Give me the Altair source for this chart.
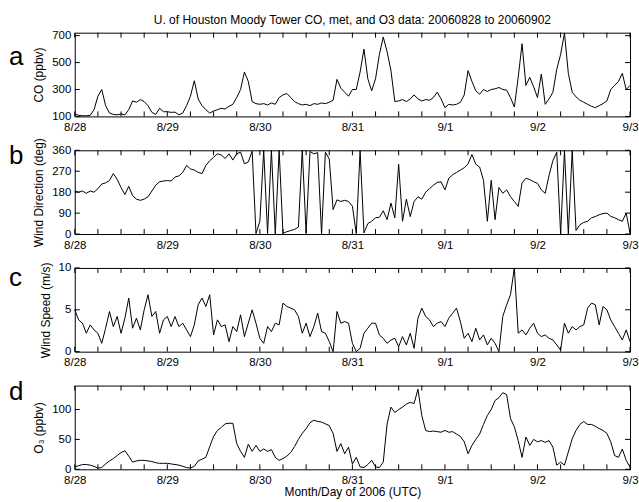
import altair as alt
import pandas as pd

# ---------------- data (hourly samples, hour 0 = 2006-08-28 00 UTC) ----------------
hours = list(range(145))
day_ticks = [0, 24, 48, 72, 96, 120, 144]
day_labels = ["8/28", "8/29", "8/30", "8/31", "9/1", "9/2", "9/3"]
minor_ticks = [0, 6, 12, 18, 24, 30, 36, 42, 48, 54, 60, 66, 72, 78, 84, 90,
               96, 102, 108, 114, 120, 126, 132, 138, 144]

co = [120, 108, 105, 105, 108, 150, 250, 300, 180, 125, 115, 112,
      118, 112, 150, 215, 205, 225, 210, 180, 130, 115, 160, 135,
      135, 130, 132, 112, 125, 180, 250, 365, 230, 180, 150, 125,
      140, 150, 160, 155, 175, 190, 240, 300, 430, 360, 210, 195,
      190, 195, 185, 200, 190, 240, 260, 270, 240, 210, 195, 185,
      190, 180, 195, 190, 200, 195, 205, 220, 375, 310, 280, 250,
      300, 300, 430, 600, 380, 290, 380, 560, 690, 580, 440, 210,
      215, 225, 210, 230, 260, 230, 215, 225, 220, 240, 280, 230,
      165, 190, 185, 190, 205, 260, 440, 360, 290, 265, 300, 285,
      300, 305, 315, 300, 295, 240, 170, 390, 640, 330, 390, 320,
      240, 415, 190, 230, 280, 450, 560, 720, 420, 280, 245, 220,
      205, 190, 175, 165, 180, 195, 215, 300, 330, 360, 420, 300,
      330]

wdir = [185, 180, 185, 175, 185, 180, 195, 215, 220, 230, 260, 235,
        200, 170, 205, 165, 150, 145, 150, 160, 185, 210, 225, 228,
        230, 228, 245, 250, 265, 295, 280, 275, 265, 260, 295, 315,
        330, 345, 340, 325, 345, 318, 345, 352, 302, 310, 356, 2,
        55, 360, 2, 360, 0, 360, 3, 10, 15, 20, 30, 360,
        5, 355, 345, 350, 0, 352, 323, 105, 147, 140, 145, 140,
        120, 2, 358, 5, 45, 55, 70, 72, 100, 62, 133, 70,
        300, 55, 150, 75, 140, 160, 150, 180, 195, 210, 222, 225,
        190, 240, 255, 265, 275, 285, 302, 342, 300, 288, 231, 55,
        231, 62, 200, 175, 190, 161, 140, 119, 220, 240, 234, 225,
        218, 190, 175, 252, 316, 352, 0, 360, 0, 360, 15, 40,
        50, 55, 70, 75, 83, 88, 90, 76, 70, 62, 55, 90,
        5]

wspd = [5.0, 3.8, 3.4, 2.2, 3.2, 2.6, 2.2, 1.0, 2.8, 4.8, 3.0, 4.2,
        2.2, 4.0, 6.4, 2.8, 4.0, 2.6, 5.0, 6.8, 4.2, 4.8, 2.2, 3.8,
        4.2, 3.0, 4.2, 3.0, 3.4, 2.6, 1.8, 3.2, 5.6, 6.4, 5.4, 6.8,
        2.0, 3.8, 3.0, 3.2, 1.2, 3.0, 2.4, 4.4, 1.8, 3.4, 5.0, 3.4,
        1.6, 1.0, 3.0, 2.4, 3.4, 3.2, 5.8, 5.4, 5.2, 5.0, 4.2, 2.2,
        3.4, 1.8, 3.0, 4.6, 2.4, 2.2, 1.2, 0.0, 4.8, 3.4, 3.6, 3.4,
        1.0, 0.0, 0.4, 2.2, 2.8, 3.4, 3.4, 2.0, 1.6, 1.0, 1.4, 1.6,
        0.6, 1.8, 0.8, 2.2, 0.4, 4.0, 5.2, 4.2, 3.8, 3.0, 3.4, 3.6,
        3.0, 4.0, 4.6, 5.2, 3.6, 1.6, 2.2, 1.2, 2.8, 1.4, 2.0, 0.8,
        1.6, 1.0, 0.0, 4.2, 5.6, 6.8, 10.0, 2.2, 2.6, 2.0, 2.8, 3.4,
        2.2, 1.8, 2.0, 1.6, 1.4, 0.8, 0.2, 3.4, 2.2, 3.0, 2.6, 3.0,
        3.2, 5.2, 5.8, 5.6, 3.2, 5.4, 5.0, 3.8, 3.0, 2.2, 1.4, 2.6,
        1.2]

o3 = [4, 6, 8, 8, 7, 5, 2, 3, 9, 14, 18, 23,
      28, 31, 22, 12, 14, 15, 15, 14, 13, 11, 10, 10,
      10, 9, 8, 7, 5, 3, 2, 5, 14, 17, 20, 38,
      55, 65, 70, 76, 77, 77, 43, 30, 20, 42, 30, 40,
      30, 34, 30, 33, 20, 15, 18, 22, 28, 38, 50, 60,
      68, 78, 82, 80, 79, 76, 73, 60, 30, 43, 26, 37,
      9, 20, 4, 3, 8, 15, 4, 3, 12, 76, 104, 95,
      100, 104, 109, 112, 110, 134, 90, 65, 63, 64, 63, 62,
      65, 62, 63, 59, 55, 46, 26, 40, 50, 59, 75, 90,
      100, 115, 120, 128, 125, 85, 71, 48, 20, 54, 40, 50,
      46, 48, 45, 48, 37, 7, 12, 7, 29, 51, 65, 75,
      80, 75, 75, 72, 68, 65, 60, 46, 23, 20, 34, 15,
      4]

TITLE = "U. of Houston Moody Tower CO, met, and O3 data: 20060828 to 20060902"
FONT = "Liberation Sans"
W, H = 557, 84
TICK = 5

label_expr = ""
for t, l in zip(day_ticks, day_labels):
    label_expr += f"datum.value == {t} ? '{l}' : "
label_expr += "''"


def panel(values, ytitle, domain, yticks, letter, letter_y, last=False):
    df = pd.DataFrame({"hour": hours, "v": values})
    xscale = alt.Scale(domain=[0, 144], nice=False, zero=False)
    yscale = alt.Scale(domain=domain, nice=False, zero=False)
    x_axis = alt.Axis(values=day_ticks, labelExpr=label_expr, ticks=False,
                      domain=False, grid=False, labelPadding=5,
                      labelFlush=False, title="Month/Day of 2006 (UTC)" if last else None,
                      titlePadding=1)
    y_axis = alt.Axis(values=yticks, ticks=False, domain=False, grid=False,
                      title=ytitle, labelPadding=4, titlePadding=6)
    line = alt.Chart(df).mark_line(color="black", strokeWidth=1).encode(
        x=alt.X("hour:Q", scale=xscale, axis=x_axis),
        y=alt.Y("v:Q", scale=yscale, axis=y_axis),
    )
    xt = pd.DataFrame({"hour": minor_ticks})
    yt = pd.DataFrame({"v": yticks})
    bot = alt.Chart(xt).mark_rule(color="black", strokeWidth=1).encode(
        x=alt.X("hour:Q", scale=xscale, axis=x_axis),
        y=alt.value(H), y2=alt.value(H - TICK))
    top = alt.Chart(xt).mark_rule(color="black", strokeWidth=1).encode(
        x=alt.X("hour:Q", scale=xscale, axis=x_axis),
        y=alt.value(0), y2=alt.value(TICK))
    left = alt.Chart(yt).mark_rule(color="black", strokeWidth=1).encode(
        y=alt.Y("v:Q", scale=yscale, axis=y_axis),
        x=alt.value(0), x2=alt.value(TICK))
    right = alt.Chart(yt).mark_rule(color="black", strokeWidth=1).encode(
        y=alt.Y("v:Q", scale=yscale, axis=y_axis),
        x=alt.value(W), x2=alt.value(W - TICK))
    let = alt.Chart(pd.DataFrame({"t": [letter]})).mark_text(
        align="left", baseline="alphabetic", fontSize=26, font=FONT, color="black"
    ).encode(x=alt.value(-66), y=alt.value(letter_y), text="t:N")
    return alt.layer(line, bot, top, left, right, let).properties(width=W, height=H)


pa = panel(co, "CO (ppbv)", [100, 722], [100, 300, 500, 700], "a", 32).properties(
    title=alt.TitleParams(text=TITLE, fontSize=12, font=FONT, fontWeight="normal",
                          anchor="middle", offset=3, color="black"))
pb = panel(wdir, "Wind Direction (deg)", [0, 360], [0, 90, 180, 270, 360], "b", 14)
pc = panel(wspd, "Wind Speed (m/s)", [0, 10], [0, 5, 10], "c", 18)
pd_ = panel(o3, "O₃ (ppbv)", [0, 140], [0, 50, 100], "d", 14, last=True)

chart = alt.vconcat(pa, pb, pc, pd_, spacing=34, bounds="flush").configure_view(
    stroke="black", strokeWidth=1
).configure_axis(
    labelFont=FONT, labelFontSize=11.5, labelColor="black",
    titleFont=FONT, titleFontSize=12, titleColor="black", titleFontWeight="normal"
).properties(padding={"left": 8, "top": 12, "right": 0, "bottom": 0})

chart.save("out.html", embed_options={"renderer": "svg", "actions": False})
